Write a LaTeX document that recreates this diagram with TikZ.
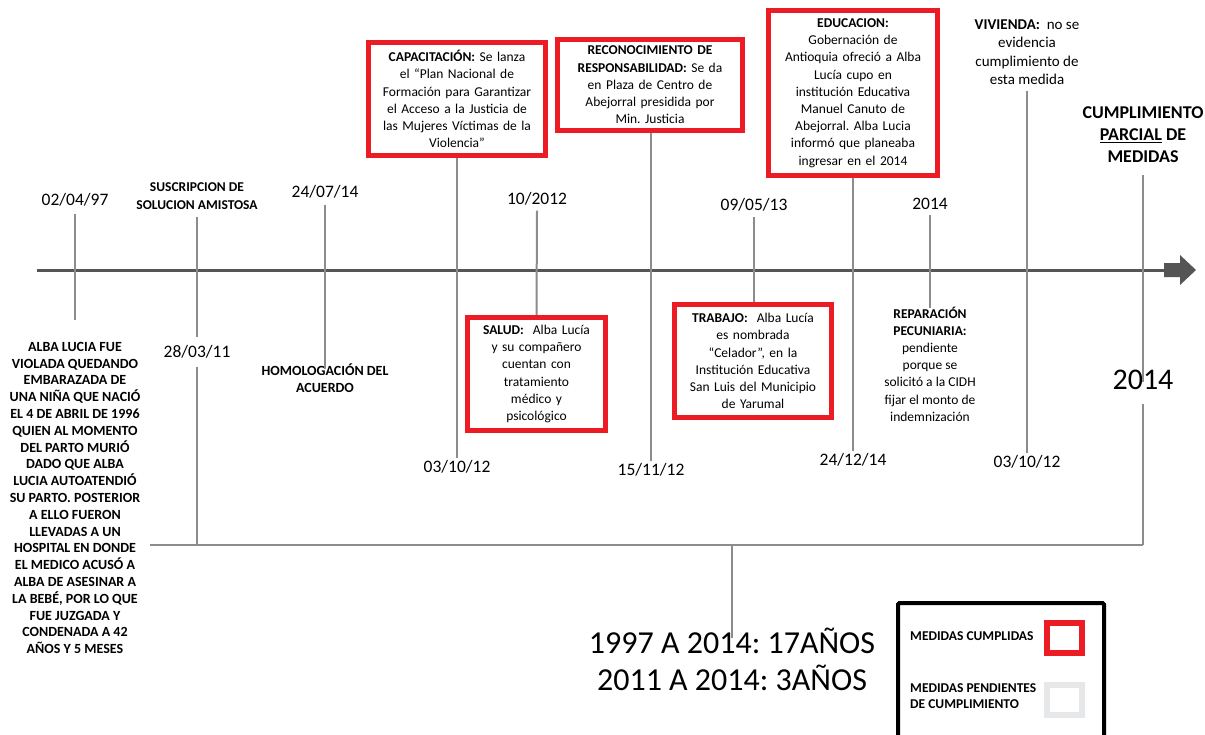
\documentclass[tikz,border=0pt]{standalone}
\usepackage{fontspec}
\setmainfont{Carlito}
\frenchspacing
\definecolor{boxred}{HTML}{ED1C24}
\definecolor{stemgray}{HTML}{8C8C8C}
\definecolor{axisgray}{HTML}{555555}
\definecolor{pendgray}{HTML}{E6E7E8}
\begin{document}
\begin{tikzpicture}[x=1pt,y=-1pt,
  stem/.style={draw=stemgray,line width=2pt},
  redbox/.style={draw=boxred,line width=5.5pt,align=center,inner sep=0pt,
    font=\fontsize{13.5}{17.2}\selectfont},
  datelbl/.style={font=\fontsize{17.5}{20}\selectfont,inner sep=2pt},
  capslbl/.style={font=\bfseries\fontsize{14}{16.8}\selectfont,align=center,inner sep=2pt},
  notelbl/.style={font=\fontsize{13.5}{17.2}\selectfont,align=center,inner sep=2pt},
  biglbl/.style={font=\fontsize{32}{37}\selectfont,inner sep=0pt}]
\useasboundingbox (0,0) rectangle (1205,734);

% main time axis with its block arrow head
\coordinate (axL) at (37,270);
\coordinate (axR) at (1166,270);
\draw[axisgray,line width=3pt] (axL) -- (axR);
\fill[axisgray] (1164,263) -- (1180,263) -- (1180,255) -- (1196,270)
  -- (1180,285) -- (1180,277) -- (1164,277) -- cycle;

% 02/04/97
\node[datelbl] (d1) at (75,200) {02/04/97};
\node[capslbl] (alba) at (75,498) {ALBA LUCIA FUE\\VIOLADA QUEDANDO\\EMBARAZADA DE\\UNA NIÑA QUE NACIÓ\\EL 4 DE ABRIL DE 1996\\QUIEN AL MOMENTO\\DEL PARTO MURIÓ\\DADO QUE ALBA\\LUCIA AUTOATENDIÓ\\SU PARTO. POSTERIOR\\A ELLO FUERON\\LLEVADAS A UN\\HOSPITAL EN DONDE\\EL MEDICO ACUSÓ A\\ALBA DE ASESINAR A\\LA BEBÉ, POR LO QUE\\FUE JUZGADA Y\\CONDENADA A 42\\AÑOS Y 5 MESES};
\coordinate (e1) at (75,320);
\draw[stem] ([yshift=-5pt]d1.south) -- (e1);

% suscripcion / 28/03/11
\node[capslbl,font=\bfseries\fontsize{13.5}{18}\selectfont] (susc) at (197,196) {SUSCRIPCION DE\\SOLUCION AMISTOSA};
\node[datelbl] (d2) at (197,352) {28/03/11};
\coordinate (b2) at (197,545);
\draw[stem] ([yshift=-5pt]susc.south) -- ([yshift=6pt]d2.north);
\draw[stem] ([yshift=-6pt]d2.south) -- (b2);

% 24/07/14 homologacion
\node[datelbl] (d3) at (325,192) {24/07/14};
\node[capslbl] (homo) at (325,378) {HOMOLOGACIÓN DEL\\ACUERDO};
\draw[stem] ([yshift=-4pt]d3.south) -- ([yshift=-8pt]homo.north);

% capacitacion
\node[redbox,minimum width=177pt,minimum height=113pt,text width=170pt] (cap) at (457,99)
  {\textbf{CAPACITACIÓN:} Se lanza\\el “Plan Nacional de\\Formación para Garantizar\\el Acceso a la Justicia de\\las Mujeres Víctimas de la\\Violencia”};
\node[datelbl] (d4) at (457,467) {03/10/12};
\draw[stem] (cap.south) -- (d4.north);

% 10/2012 salud
\node[datelbl] (d5) at (537,199) {10/2012};
\node[redbox,minimum width=138pt,minimum height=113pt,text width=130pt] (salud) at (536.5,374)
  {\textbf{SALUD:}\ \ Alba Lucía\\y su compañero\\cuentan con\\tratamiento\\médico y\\psicológico};
\draw[stem] ([yshift=-3pt]d5.south) -- (salud.north);

% reconocimiento
\node[redbox,minimum width=185pt,minimum height=91pt,text width=180pt] (reco) at (650,85)
  {\textbf{RECONOCIMIENTO DE}\\\textbf{RESPONSABILIDAD:} Se da\\en Plaza de Centro de\\Abejorral presidida por\\Min. Justicia};
\node[datelbl] (d6) at (651,470) {15/11/12};
\draw[stem] ([xshift=1pt]reco.south) -- (d6.north);

% 09/05/13 trabajo
\node[datelbl] (d7) at (754,205) {09/05/13};
\node[redbox,minimum width=157pt,minimum height=113pt,text width=150pt] (trab) at (753,361)
  {\textbf{TRABAJO:}\ \ Alba Lucía\\es nombrada\\“Celador”, en la\\Institución Educativa\\San Luis del Municipio\\de Yarumal};
\draw[stem] ([yshift=-3pt]d7.south) -- ([xshift=1pt]trab.north);

% educacion
\node[redbox,minimum width=169pt,minimum height=165pt,text width=160pt] (educ) at (853,93)
  {\textbf{EDUCACION:}\\Gobernación de\\Antioquia ofreció a Alba\\Lucía cupo en\\institución Educativa\\Manuel Canuto de\\Abejorral. Alba Lucia\\informó que planeaba\\ingresar en el 2014};
\node[datelbl] (d8) at (853,460) {24/12/14};
\draw[stem] (educ.south) -- (d8.north);

% 2014 reparacion
\node[datelbl] (d9) at (930,204) {2014};
\node[notelbl] (repa) at (930,364) {\textbf{REPARACIÓN}\\\textbf{PECUNIARIA:}\\pendiente\\porque se\\solicitó a la CIDH\\fijar el monto de\\indemnización};
\draw[stem] ([yshift=-3pt]d9.south) -- ([yshift=-4pt]repa.north);

% vivienda
\node[notelbl,font=\fontsize{15}{18.5}\selectfont] (vivi) at (1027,52) {\textbf{VIVIENDA:}\ \ no se\\evidencia\\cumplimiento de\\esta medida};
\node[datelbl] (d10) at (1027,462) {03/10/12};
\draw[stem] ([yshift=-4pt]vivi.south) -- (d10.north);

% cumplimiento parcial / 2014
\node[font=\bfseries\fontsize{18}{22}\selectfont,align=center,inner sep=2pt] (cump) at (1143,135)
  {CUMPLIMIENTO\\\underline{PARCIAL} DE\\MEDIDAS};
\node[font=\fontsize{30}{34}\selectfont,inner sep=0pt] (y14) at (1143,380) {2014};
\coordinate (b11) at (1143,545);
\draw[stem] ([yshift=-10pt]cump.south) -- ([yshift=-12pt]y14.north);
\draw[stem] ([yshift=-14pt]y14.south) -- (b11);

% span bracket and totals
\coordinate (bL) at (150,545);
\coordinate (bM) at (732,545);
\draw[stem] (bL) -- (b11);
\node[biglbl] (tot1) at (732,641) {1997 A 2014: 17AÑOS};
\node[biglbl] (tot2) at (732,678) {2011 A 2014: 3AÑOS};
\draw[stem] (bM) -- ([yshift=-10pt]tot1.north);

% legend
\draw[black,line width=4pt,rounded corners=1.5pt] (898,745) -- (898,603) -- (1104,603) -- (1104,745);
\node[font=\bfseries\fontsize{13.5}{16}\selectfont,anchor=west,inner sep=0pt] (lg1) at (910,636) {MEDIDAS CUMPLIDAS};
\node[font=\bfseries\fontsize{13.5}{16.5}\selectfont,anchor=west,align=left,inner sep=0pt] (lg2) at (910,696) {MEDIDAS PENDIENTES\\DE CUMPLIMIENTO};
\node[draw=boxred,line width=6pt,minimum width=35pt,minimum height=30pt,inner sep=0pt] (sq1) at (1064.5,638) {};
\node[draw=pendgray,line width=6pt,minimum width=35pt,minimum height=30pt,inner sep=0pt] (sq2) at (1064.5,700) {};
\end{tikzpicture}
\end{document}
